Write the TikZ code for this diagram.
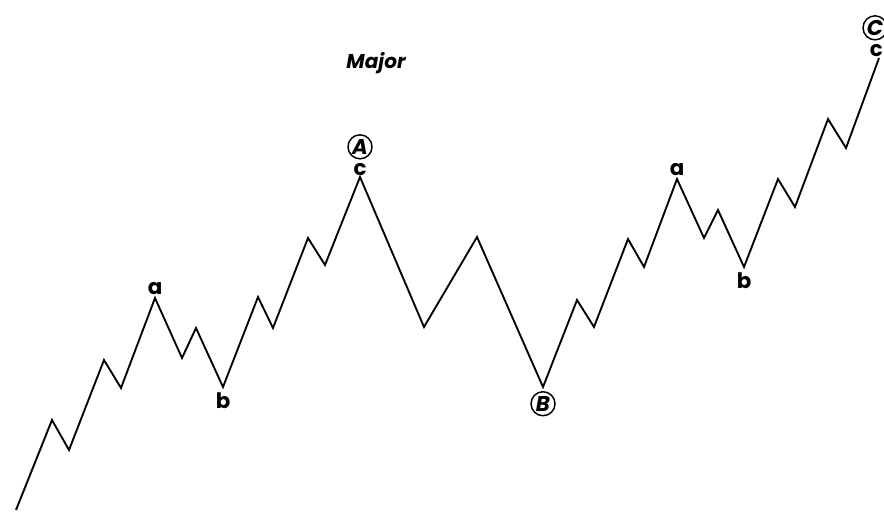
\documentclass[tikz,border=0pt]{standalone}
\usepackage{fontspec}
\setmainfont{Poppins}
\usetikzlibrary{positioning}

\begin{document}
\begin{tikzpicture}[
  x=0.75pt, y=-0.75pt,
  wave/.style={draw=black,line width=1.4pt,line join=miter},
  lbl/.style={font=\fontsize{16}{16}\selectfont\bfseries,inner sep=0pt},
  circ/.style={circle,draw=black,line width=1.1pt,inner sep=0pt,minimum size=18pt,
    font=\fontsize{16}{16}\selectfont\bfseries\itshape},
  ttl/.style={font=\fontsize{15}{15}\selectfont\bfseries\itshape,inner sep=0pt}
]
\useasboundingbox (0,0) rectangle (884,511);

% Wave vertices
\foreach \px/\py [count=\i from 0] in {
  16/510, 52/420, 69/450, 104/360, 121/388, 155/298, 182/358, 196/328,
  223/387, 258/297, 273/328, 308/238, 325/265, 360/177, 424/327, 477/237,
  543/387, 577/300, 594/327, 628/239, 644/267, 677/179, 704/238, 718/210,
  744/267, 778/179, 795/207, 828/119, 846/148, 879/58}
  \coordinate (p\i) at (\px,\py);

% Wave
\draw[wave] (p0) \foreach \i in {1,...,29}{ -- (p\i)};

% Title
\node[ttl] (major) at (376,63) {Major};

% Labels
\node[lbl, above=2pt of p5] (a1) {a};
\node[lbl, below=4pt of p8] (b1) {b};
\node[lbl, above=1pt of p13] (c1) {c};
\node[circ, above=2.5pt of c1] (A) {A};
\node[circ, below=3pt of p16] (B) {B};
\node[lbl, above=2pt of p21] (a2) {a};
\node[lbl, below=4pt of p24] (b2) {b};
\node[lbl, above=1pt of p29, xshift=-2pt] (c2) {c};
\node[circ, above=2.5pt of c2, xshift=-1pt] (C) {C};

\end{tikzpicture}
\end{document}
